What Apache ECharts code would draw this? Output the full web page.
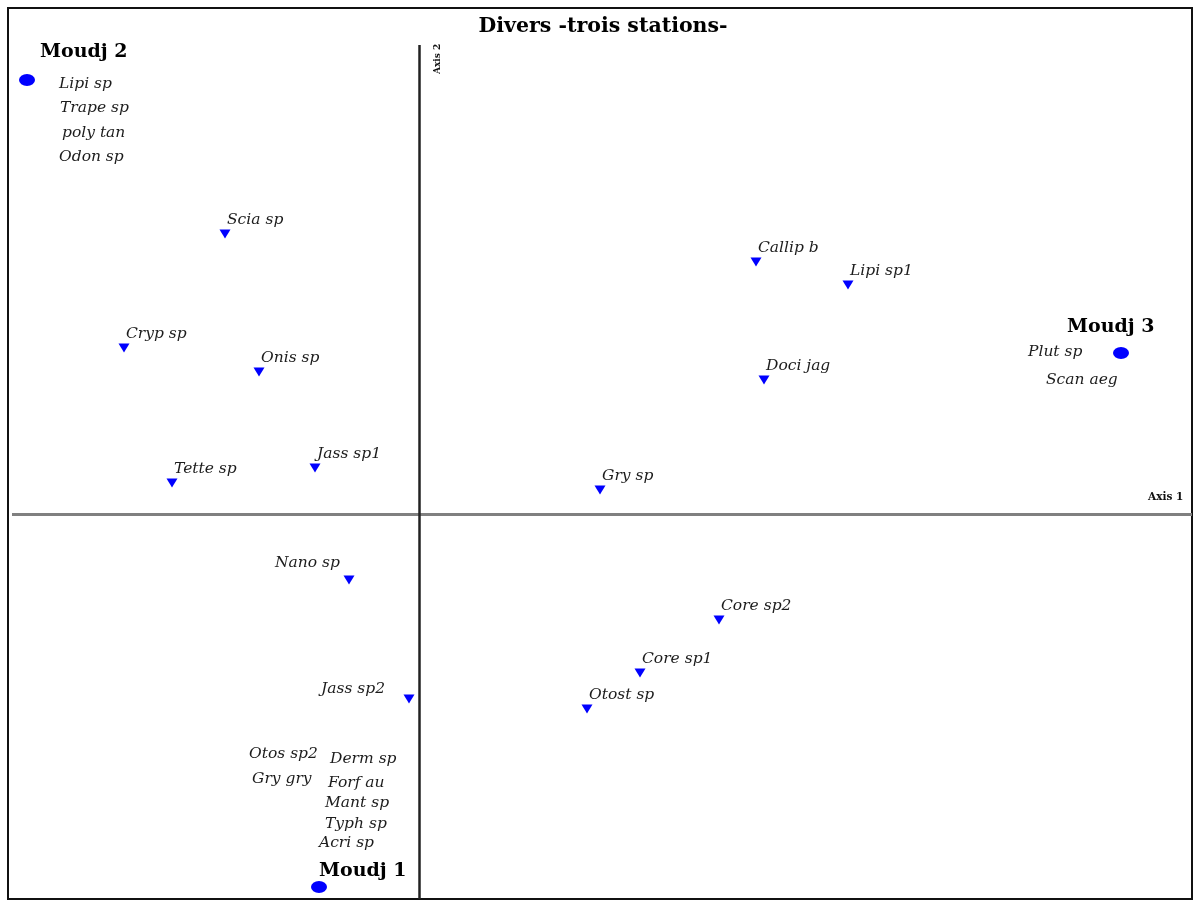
<!DOCTYPE html>
<html>
<head>
<meta charset="utf-8">
<script src="https://cdn.jsdelivr.net/npm/echarts@6/dist/echarts.min.js"></script>
<style>
  html, body { margin: 0; padding: 0; background: #fff; }
  #chart { width: 1194px; height: 901px; }
</style>
</head>
<body>
<div id="chart"></div>
<script>
    // species plotted with a marker (axis 1, axis 2)
    const speciesNames = ['Scia sp', 'Cryp sp', 'Onis sp', 'Tette sp', 'Jass sp1', 'Callip b', 'Lipi sp1',
        'Doci jag', 'Gry sp', 'Nano sp', 'Core sp2', 'Core sp1', 'Otost sp', 'Jass sp2'];
    const speciesX = [-1.94, -2.95, -1.60, -2.47, -1.04, 3.37, 4.29, 3.45, 1.81, -0.70, 3.00, 2.21, 1.68, -0.10];
    const speciesY = [2.80, 1.66, 1.42, 0.31, 0.46, 2.52, 2.29, 1.34, 0.24, -0.66, -1.06, -1.59, -1.95, -1.85];

    // stations
    const stationNames = ['Moudj 2', 'Moudj 3', 'Moudj 1'];
    const stationX = [-3.92, 7.02, -1.00];
    const stationY = [4.34, 1.61, -3.73];

    // species sitting on a station (text only)
    const groupedNames = ['Lipi sp', 'Trape sp', 'poly tan', 'Odon sp', 'Plut sp', 'Scan aeg', 'Otos sp2',
        'Derm sp', 'Gry gry', 'Forf au', 'Mant sp', 'Typh sp', 'Acri sp'];
    const groupedX = [-3.60, -3.59, -3.57, -3.60, 6.09, 6.27, -1.70, -0.89, -1.67, -0.91, -0.94, -0.94, -1.00];
    const groupedY = [4.30, 4.06, 3.81, 3.57, 1.62, 1.34, -2.40, -2.45, -2.65, -2.69, -2.89, -3.10, -3.29];

    const labelFont = {
        fontFamily: 'DejaVu Serif',
        fontStyle: 'italic',
        fontSize: 15.5,
        color: '#1c1c1c',
        opacity: 1
    };
    const leftLabels = {'Nano sp': [-74, -17], 'Jass sp2': [-88, -10]};
    const stationOffsets = [[13, -28], [-54, -26], [0, -16]];

    const chart = echarts.init(document.getElementById('chart'), null, {renderer: 'canvas'});

    chart.setOption({
        animation: false,
        backgroundColor: '#fff',
        grid: {
            left: 8, right: 2, top: 8, bottom: 2,
            show: true,
            borderColor: '#111',
            borderWidth: 2
        },
        xAxis: {
            type: 'value', min: -4.11, max: 7.73,
            axisLine: {show: false}, axisTick: {show: false},
            axisLabel: {show: false}, splitLine: {show: false}
        },
        yAxis: {
            type: 'value', min: -3.85, max: 5.06,
            axisLine: {show: false}, axisTick: {show: false},
            axisLabel: {show: false}, splitLine: {show: false}
        },
        graphic: [
            {
                type: 'text', x: 603, y: 27,
                style: {
                    text: 'Divers -trois stations-', align: 'center', verticalAlign: 'middle',
                    font: 'bold 20.5px "DejaVu Serif"', fill: '#000'
                }
            },
            {
                type: 'text', x: 1148, y: 497,
                style: {text: 'Axis 1', verticalAlign: 'middle', font: 'bold 10.5px "DejaVu Serif"', fill: '#111'}
            },
            {
                type: 'text', x: 438, y: 74, rotation: Math.PI / 2,
                style: {text: 'Axis 2', verticalAlign: 'middle', font: 'bold 9px "DejaVu Serif"', fill: '#111'}
            }
        ],
        series: [
            {
                name: 'axes',
                type: 'scatter',
                data: [],
                markLine: {
                    silent: true,
                    symbol: 'none',
                    label: {show: false},
                    data: [
                        [{coord: [-4.07, 0], lineStyle: {color: '#808080', width: 3, type: 'solid', opacity: 1}}, {coord: [7.73, 0]}],
                        [{coord: [0, 4.69], lineStyle: {color: '#222', width: 2.5, type: 'solid', opacity: 1}}, {coord: [0, -3.85]}]
                    ]
                }
            },
            {
                name: 'species',
                type: 'scatter',
                symbol: 'triangle',
                symbolRotate: 180,
                symbolSize: [11, 9],
                itemStyle: {color: '#0000ff', opacity: 1},
                data: speciesNames.map((n, i) => ({
                    name: n,
                    value: [speciesX[i], speciesY[i]],
                    label: leftLabels[n] ? {offset: leftLabels[n]} : undefined
                })),
                label: Object.assign({
                    show: true,
                    position: 'inside',
                    align: 'left',
                    verticalAlign: 'middle',
                    offset: [2, -14],
                    formatter: p => p.name
                }, labelFont)
            },
            {
                name: 'grouped',
                type: 'scatter',
                symbolSize: 0,
                itemStyle: {opacity: 1},
                data: groupedNames.map((n, i) => ({name: n, value: [groupedX[i], groupedY[i]]})),
                label: Object.assign({
                    show: true,
                    position: 'inside',
                    align: 'left',
                    verticalAlign: 'middle',
                    formatter: p => p.name
                }, labelFont)
            },
            {
                name: 'stations',
                type: 'scatter',
                symbol: 'circle',
                symbolSize: [16, 12],
                itemStyle: {color: '#0000ff', opacity: 1},
                data: stationNames.map((n, i) => ({
                    name: n,
                    value: [stationX[i], stationY[i]],
                    label: {offset: stationOffsets[i]}
                })),
                label: {
                    show: true,
                    position: 'inside',
                    align: 'left',
                    verticalAlign: 'middle',
                    formatter: p => p.name,
                    fontFamily: 'DejaVu Serif',
                    fontWeight: 'bold',
                    fontSize: 19,
                    color: '#000',
                    opacity: 1
                }
            }
        ]
    });
</script>
</body>
</html>
